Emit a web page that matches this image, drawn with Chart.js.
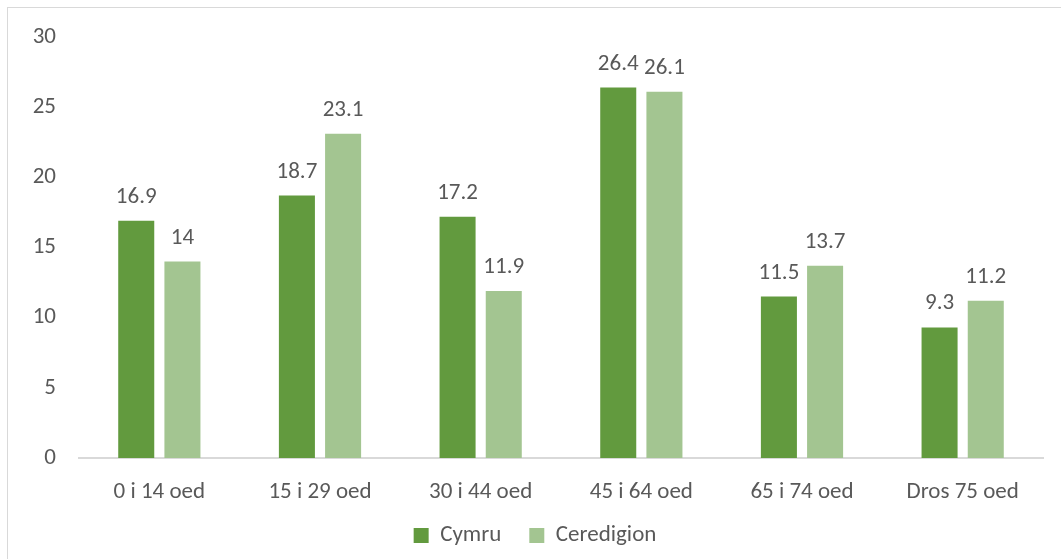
<!DOCTYPE html>
<html>
<head>
<meta charset="utf-8">
<script src="https://cdn.jsdelivr.net/npm/chart.js@4/dist/chart.umd.min.js"></script>
<style>
html,body{margin:0;padding:0;background:#fff;}
#wrap{position:relative;width:1061px;height:559px;}
#frame{position:absolute;left:7px;top:7px;width:1100px;height:600px;border-left:1.5px solid #d9d9d9;border-top:1.5px solid #d9d9d9;box-sizing:border-box;pointer-events:none;}
canvas{position:absolute;left:0;top:0;}
</style>
</head>
<body>
<div id="wrap">
<canvas id="c" width="1061" height="559"></canvas>
<div id="frame"></div>
</div>
<script>
const categories = ["0 i 14 oed", "15 i 29 oed", "30 i 44 oed", "45 i 64 oed", "65 i 74 oed", "Dros 75 oed"];
const cymru = [16.9, 18.7, 17.2, 26.4, 11.5, 9.3];
const ceredigion = [14, 23.1, 11.9, 26.1, 13.7, 11.2];
const seriesNames = ["Cymru", "Ceredigion"];
const yTicks = [0, 5, 10, 15, 20, 25, 30];

const FONT = "Carlito, Lato, 'Liberation Sans', sans-serif";
const FS = 23;
const TEXT = "#595959";

const valueLabels = {
  id: "valueLabels",
  afterDatasetsDraw(chart) {
    const ctx = chart.ctx;
    ctx.save();
    ctx.font = FS + "px " + FONT;
    ctx.fillStyle = TEXT;
    ctx.textAlign = "center";
    ctx.textBaseline = "alphabetic";
    chart.data.datasets.forEach((ds, i) => {
      const meta = chart.getDatasetMeta(i);
      meta.data.forEach((el, j) => {
        ctx.fillText(String(ds.data[j]), el.x, el.y - 18);
      });
    });
    ctx.restore();
  }
};

new Chart(document.getElementById("c"), {
  type: "bar",
  data: {
    labels: categories,
    datasets: [
      { label: seriesNames[0], data: cymru, backgroundColor: "#629a3e", categoryPercentage: 0.575, barPercentage: 0.78 },
      { label: seriesNames[1], data: ceredigion, backgroundColor: "#a3c591", categoryPercentage: 0.575, barPercentage: 0.78 }
    ]
  },
  options: {
    responsive: false,
    animation: false,
    layout: { padding: { top: 37, right: 18, bottom: 2, left: 27 } },
    plugins: {
      tooltip: { enabled: false },
      legend: {
        position: "bottom",
        labels: {
          font: { family: FONT, size: FS },
          color: TEXT,
          boxWidth: 15,
          boxHeight: 15,
          padding: 28
        }
      }
    },
    scales: {
      x: {
        grid: { display: false, drawTicks: false },
        border: { display: true, color: "#d9d9d9", width: 2 },
        ticks: { font: { family: FONT, size: FS }, color: TEXT, padding: 20 },
        afterFit(s) { s.height = 38; s._computeLabelArea = function () { return undefined; }; }
      },
      y: {
        min: 0, max: 30,
        afterBuildTicks(s) { s.ticks = yTicks.map(v => ({ value: v })); },
        grid: { display: false, drawTicks: false },
        border: { display: false },
        ticks: { font: { family: FONT, size: FS }, color: TEXT, padding: 23 },
        afterFit(s) { s.width = 52; s._computeLabelArea = function () { return undefined; }; }
      }
    }
  },
  plugins: [valueLabels]
});
</script>
</body>
</html>
